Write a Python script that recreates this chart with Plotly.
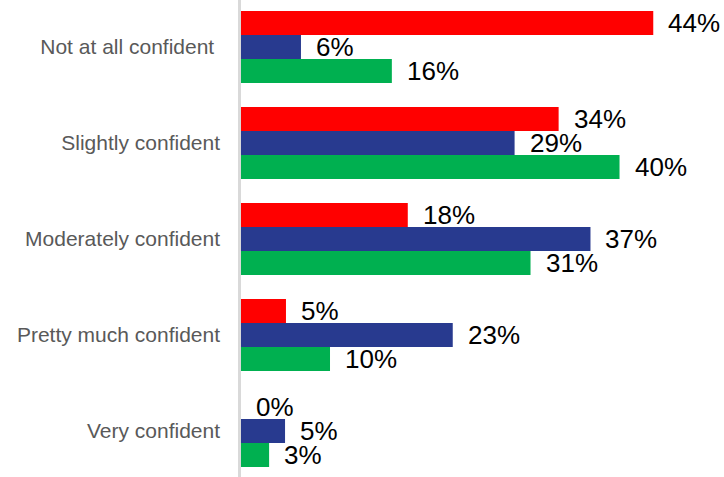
import plotly.graph_objects as go

categories = ["Not at all confident\u00a0", "Slightly confident", "Moderately confident",
              "Pretty much confident", "Very confident"]
series_names = ["Series A", "Series B", "Series C"]
red_vals = [44.0, 33.9, 17.8, 4.8, 0.0]
blue_vals = [6.4, 29.2, 37.3, 22.6, 4.7]
green_vals = [16.1, 40.4, 30.9, 9.5, 3.0]
colors = ["#FF0000", "#283A8F", "#00B050"]

all_vals = [red_vals, blue_vals, green_vals]
fig = go.Figure()
for name, vals, col in zip(series_names, all_vals, colors):
    fig.add_trace(go.Bar(y=categories, x=vals, orientation="h", name=name,
                         marker=dict(color=col, line=dict(width=0)),
                         showlegend=False, hoverinfo="skip"))

yshifts = [24, 0, -24]
for vals, ys in zip(all_vals, yshifts):
    for cat, v in zip(categories, vals):
        fig.add_annotation(x=v, y=cat, text=f"{round(v):d}%", showarrow=False,
                           xanchor="left", yanchor="middle", xshift=13, yshift=ys,
                           font=dict(family="Liberation Sans, Arial", size=26, color="#000000"))

fig.update_layout(
    width=724, height=477,
    margin=dict(l=241, r=0, t=0, b=0),
    paper_bgcolor="white", plot_bgcolor="white",
    barmode="group", bargap=0.25, bargroupgap=0,
    font=dict(family="Liberation Sans, Arial", size=21, color="#595959"),
    xaxis=dict(range=[0, 51.55], showticklabels=False, showgrid=False,
               zeroline=False, showline=False, fixedrange=True),
    yaxis=dict(range=[4.479, -0.49], showgrid=False, zeroline=False,
               showline=True, linecolor="#D9D9D9", linewidth=2.5,
               ticks="", ticklabelstandoff=14,
               tickfont=dict(family="Liberation Sans, Arial", size=21, color="#595959")),
)

fig.write_html("out.html")
